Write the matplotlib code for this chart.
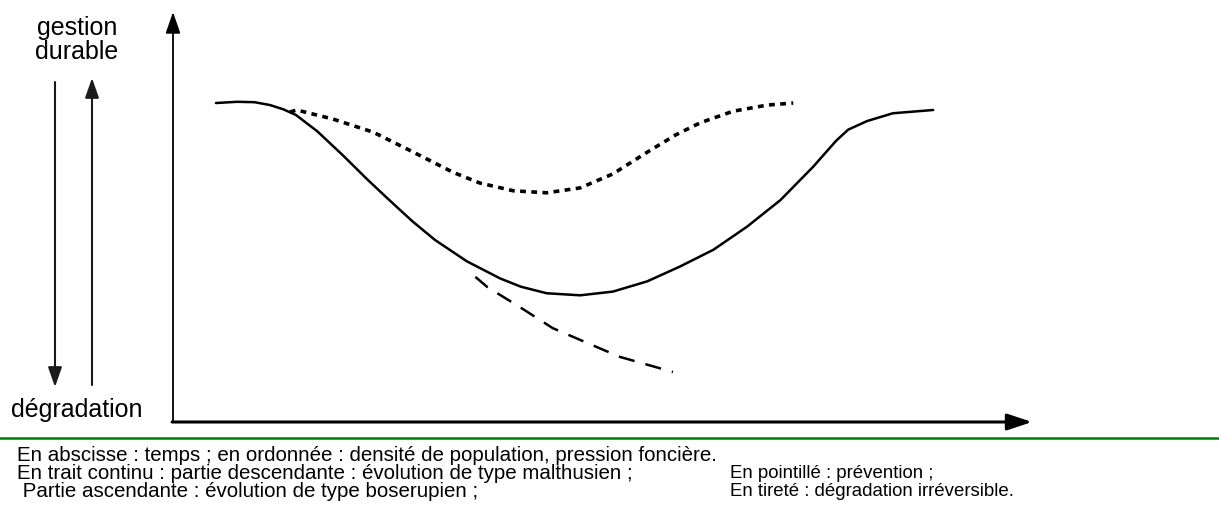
import matplotlib.pyplot as plt
from matplotlib.lines import Line2D
from matplotlib.text import Annotation

plt.rcParams['font.family'] = ['Liberation Sans', 'DejaVu Sans']

# courbe en trait continu (malthusien puis boserupien)
solid_x = [5.0, 7.5, 9.5, 11.3, 12.8, 14.3, 16.8, 19.8, 22.6, 25.3, 27.9, 30.5, 34.2, 38.1,
           40.5, 43.5, 47.4, 51.2, 55.2, 59.0, 62.9, 66.8, 70.7, 74.5, 77.2, 78.6,
           80.8, 83.8, 88.5]
solid_y = [77.8, 78.1, 78.0, 77.3, 76.3, 74.9, 70.9, 65.0, 59.2, 53.9, 48.9, 44.4, 39.2, 35.0,
           33.0, 31.4, 30.9, 31.8, 34.3, 37.9, 42.0, 47.6, 54.1, 62.2, 68.6, 71.3,
           73.4, 75.3, 76.1]

# pointillé : prévention
dotted_x = [13.6, 14.4, 18.6, 23.3, 27.9, 32.6, 35.7, 39.6, 43.5, 47.4, 51.2, 55.2,
            58.5, 61.4, 65.2, 69.2, 72.2]
dotted_y = [75.6, 76.1, 73.9, 70.7, 65.9, 60.9, 58.3, 56.4, 55.9, 57.1, 60.5, 65.8,
            70.0, 73.0, 75.8, 77.3, 77.8]

# tireté : dégradation irréversible
dashed_x = [35.2, 36.6, 40.4, 44.2, 48.2, 52.0, 58.2]
dashed_y = [35.4, 32.9, 28.0, 22.9, 19.3, 15.9, 12.2]

legend_lines = [
    "En abscisse : temps ; en ordonnée : densité de population, pression foncière.",
    "En trait continu : partie descendante : évolution de type malthusien ;",
    " Partie ascendante : évolution de type boserupien ;",
]
legend_right = ["En pointillé : prévention ;", "En tireté : dégradation irréversible."]

W, H = 1219, 511
fig = plt.figure(figsize=(W / 100, H / 100), dpi=100)

# zone du graphique : origine vers (173, 422) px, flèches jusqu'à x=1032 et y=12
ax = fig.add_axes([173 / W, (H - 422) / H, (1032 - 173) / W, (422 - 12) / H])
ax.set_xlim(0, 100)
ax.set_ylim(0, 100)
ax.axis('off')

ax.plot(solid_x, solid_y, color='black', lw=1.8, solid_capstyle='round',
        solid_joinstyle='round')
ax.plot(dotted_x, dotted_y, color='black', lw=2.6, dashes=(1.6, 1.5))
ax.plot(dashed_x, dashed_y, color='black', lw=1.8, dashes=(6.5, 4.5))

# axes avec flèches
arrow = dict(arrowstyle='-|>,head_width=0.45,head_length=1.3', color='black', lw=1.3,
             shrinkA=0, shrinkB=0)
ax.annotate('', xy=(0, 1), xytext=(0, 0), xycoords='axes fraction', arrowprops=arrow)
ax.annotate('', xy=(1, 0), xytext=(-0.001, 0), xycoords='axes fraction',
            arrowprops=dict(arrow, lw=2.2, arrowstyle='-|>,head_width=0.5,head_length=1.5'))

# flèches à gauche
side = dict(arrowstyle='-|>,head_width=0.42,head_length=1.2', color='#1a1a1a', lw=1.5,
            shrinkA=0, shrinkB=0)
fig.add_artist(Annotation('', xy=(55 / W, 1 - 387 / H), xytext=(55 / W, 1 - 82 / H),
                          xycoords='figure fraction', arrowprops=side))
fig.add_artist(Annotation('', xy=(92 / W, 1 - 78 / H), xytext=(92 / W, 1 - 385 / H),
                          xycoords='figure fraction', arrowprops=side))

fig.text(77 / W, 1 - 40 / H, "gestion\ndurable", ha='center', va='center',
         fontsize=18, linespacing=0.95)
fig.text(77 / W, 1 - 410 / H, "dégradation", ha='center', va='center', fontsize=18)

# séparateur vert
fig.add_artist(Line2D([0, 1], [1 - 438 / H, 1 - 438 / H], transform=fig.transFigure,
                      color='#008000', lw=1.8))

for i, line in enumerate(legend_lines):
    fig.text(17 / W, 1 - (455 + 18 * i) / H, line, ha='left', va='center', fontsize=14.8)
for i, line in enumerate(legend_right):
    fig.text(730 / W, 1 - (473 + 18 * i) / H, line, ha='left', va='center', fontsize=13.4)

fig.savefig('out.png', dpi=100)
